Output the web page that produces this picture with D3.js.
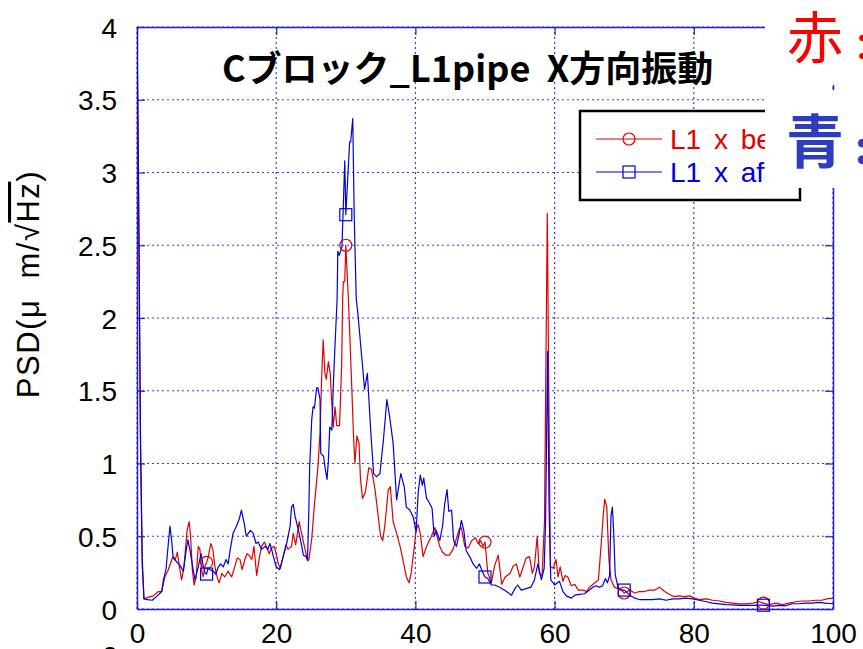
<!DOCTYPE html>
<html>
<head>
<meta charset="utf-8">
<script src="https://cdn.jsdelivr.net/npm/d3@7"></script>
<style>
  html, body { margin: 0; padding: 0; background: #fff; }
  svg { display: block; }
  text { font-family: "Liberation Sans", Arial, sans-serif; white-space: pre; }
</style>
</head>
<body>
<svg id="chart" width="863" height="649"></svg>
<script>
// Frequency (Hz) and PSD readings for the two measurements
const freqBefore = [0,0.25,0.5,0.75,1.0,1.6,2.35,3.07,3.55,4.0,4.5,5.0,5.2,5.5,5.8,6.1,6.4,6.7,7.0,7.2,7.5,7.7,7.95,8.2,8.5,8.8,9.04,9.28,9.5,9.8,10.0,10.2,10.6,10.9,11.2,11.5,11.8,12.2,12.6,13.1,13.6,14.1,14.4,14.8,15.1,15.5,15.8,16.1,16.5,16.8,17.2,17.6,17.9,18.3,18.6,19.0,19.3,19.7,20.0,20.3,20.6,21.0,21.4,21.7,22.2,22.45,22.8,23.3,23.6,24.1,24.5,24.7,25.1,25.5,26.0,26.3,26.5,26.75,27.0,27.2,27.5,27.75,27.95,28.2,28.45,28.7,29.1,29.4,29.55,29.65,29.85,30.0,30.4,30.8,31.1,31.3,31.6,31.9,32.1,32.4,32.8,33.3,33.7,34.2,34.6,35.0,35.3,35.6,36.1,36.4,36.8,37.3,37.8,38.2,38.7,39.1,39.4,39.8,40.1,40.4,40.7,41.1,41.6,42.0,42.3,42.8,43.0,43.5,43.9,44.4,44.9,45.4,45.8,46.3,46.6,47.1,47.6,48.1,48.6,49.0,49.4,49.7,50.0,50.4,50.9,51.4,51.9,52.4,52.9,53.6,54.0,54.5,55.0,55.5,55.9,56.4,56.8,57.1,57.5,57.8,58.2,58.55,58.95,59.2,59.4,59.8,60.2,60.5,60.8,61.0,61.2,61.5,61.9,62.4,62.9,63.4,64.1,64.6,65.0,65.8,66.3,66.7,67.0,67.2,67.5,67.8,68.1,68.6,69.1,69.6,70.0,70.8,71.5,72.2,72.9,73.6,74.4,75.1,75.8,76.5,77.2,77.9,78.6,79.4,80.1,80.8,81.8,82.7,83.7,84.6,85.6,86.5,87.5,88.5,89.4,90.0,90.8,91.8,92.7,93.7,94.6,95.6,96.5,97.5,98.4,99.1,100];
const psdBefore = [4.0,2.6,1.1,0.3,0.07,0.08,0.09,0.12,0.12,0.22,0.27,0.34,0.36,0.34,0.39,0.29,0.2,0.27,0.43,0.54,0.6,0.5,0.27,0.165,0.22,0.43,0.41,0.27,0.22,0.3,0.32,0.35,0.45,0.41,0.29,0.22,0.18,0.245,0.22,0.26,0.22,0.3,0.35,0.34,0.27,0.34,0.38,0.37,0.34,0.43,0.23,0.36,0.43,0.46,0.43,0.38,0.42,0.43,0.38,0.31,0.28,0.36,0.44,0.41,0.43,0.52,0.44,0.6,0.53,0.42,0.33,0.34,0.48,0.72,0.98,1.21,1.55,1.85,1.62,1.58,1.7,1.62,1.45,1.25,1.39,1.26,1.26,1.67,2.13,2.25,2.25,2.5,2.1,1.6,1.2,1.0,1.19,1.14,0.9,0.76,0.8,0.97,0.96,0.82,0.66,0.5,0.47,0.57,0.82,0.84,0.6,0.52,0.43,0.34,0.22,0.18,0.25,0.41,0.54,0.58,0.52,0.36,0.43,0.47,0.5,0.56,0.52,0.43,0.39,0.37,0.37,0.41,0.47,0.55,0.56,0.43,0.42,0.47,0.49,0.45,0.47,0.43,0.46,0.25,0.18,0.3,0.37,0.17,0.22,0.245,0.29,0.31,0.22,0.29,0.35,0.36,0.245,0.29,0.5,0.245,0.23,0.6,2.72,1.3,0.29,0.28,0.34,0.22,0.29,0.24,0.19,0.23,0.22,0.16,0.17,0.13,0.13,0.12,0.15,0.18,0.2,0.45,0.65,0.755,0.7,0.34,0.2,0.15,0.14,0.13,0.11,0.13,0.11,0.12,0.12,0.13,0.13,0.15,0.12,0.1,0.085,0.09,0.085,0.09,0.075,0.065,0.07,0.06,0.055,0.045,0.04,0.035,0.035,0.04,0.05,0.04,0.03,0.04,0.03,0.04,0.05,0.055,0.055,0.06,0.06,0.07,0.075];

const freqAfter = [0,0.25,0.5,0.75,1.0,1.5,2.2,2.8,3.55,3.8,4.16,4.5,4.74,4.98,5.2,5.6,6.17,6.65,7.0,7.3,7.6,8.0,8.33,8.8,9.2,9.5,9.8,10.0,10.2,10.5,10.96,11.3,11.7,12.0,12.4,12.8,13.1,13.4,13.8,14.3,14.7,15.0,15.4,15.7,16.0,16.3,16.7,17.1,17.4,17.9,18.4,18.8,19.1,19.4,19.6,20.0,20.5,21.0,21.5,22.0,22.2,22.45,22.7,23.2,23.6,23.9,24.3,24.5,24.7,24.8,25.1,25.3,25.5,25.8,26.0,26.3,26.4,26.8,27.0,27.3,27.5,27.7,28.0,28.2,28.4,28.75,28.85,29.05,29.45,29.85,30.0,30.55,30.7,31.0,31.2,31.5,31.7,32.2,32.7,33.1,33.6,34.0,34.4,34.9,35.4,35.9,36.3,36.8,37.3,37.9,38.4,38.7,39.2,39.7,40.1,40.4,40.7,41.0,41.2,41.6,42.0,42.4,42.7,43.0,43.5,43.9,44.2,44.55,44.8,45.2,45.5,45.9,46.3,46.6,46.95,47.3,47.8,48.3,48.8,49.2,49.6,50.0,50.4,50.9,51.4,52.1,53.1,53.8,54.3,54.7,55.2,55.9,56.6,57.1,57.6,58.1,58.5,58.7,59.0,59.2,59.45,60.0,60.7,61.2,61.7,62.4,62.9,63.6,64.3,65.0,65.5,66.0,66.4,66.9,67.3,67.6,67.9,68.1,68.3,68.5,68.7,69.1,69.6,70.0,70.8,71.5,72.2,73.1,74.1,75.1,76.0,77.0,77.9,78.9,79.8,80.8,81.8,82.7,83.7,84.6,85.6,86.5,87.5,88.5,89.4,90.0,91.3,92.2,93.2,94.1,95.1,96.0,97.0,97.9,98.9,100];
const psdAfter = [4.0,2.8,1.2,0.35,0.07,0.065,0.06,0.085,0.12,0.2,0.27,0.45,0.57,0.47,0.35,0.33,0.3,0.26,0.38,0.475,0.41,0.29,0.2,0.29,0.38,0.3,0.245,0.24,0.28,0.27,0.26,0.24,0.29,0.31,0.29,0.34,0.31,0.41,0.52,0.57,0.62,0.68,0.59,0.5,0.52,0.54,0.52,0.45,0.46,0.41,0.43,0.41,0.45,0.4,0.36,0.29,0.27,0.36,0.45,0.57,0.7,0.72,0.64,0.54,0.45,0.37,0.36,0.34,0.7,0.96,1.3,1.39,1.38,1.52,1.52,1.44,1.07,1.05,0.98,0.89,1.02,1.25,1.23,1.53,1.76,2.13,2.46,2.43,2.49,3.08,2.71,3.21,3.21,3.37,2.72,2.13,2.05,1.78,1.51,1.62,1.21,0.93,0.91,0.93,1.16,1.44,1.32,1.14,0.75,0.93,0.84,0.7,0.68,0.63,0.53,0.8,0.92,0.85,0.9,0.76,0.73,0.69,0.5,0.54,0.47,0.57,0.72,0.82,0.67,0.68,0.47,0.43,0.52,0.61,0.54,0.4,0.36,0.31,0.28,0.31,0.26,0.22,0.21,0.165,0.165,0.15,0.12,0.095,0.14,0.165,0.13,0.14,0.15,0.2,0.31,0.2,0.28,0.6,1.77,0.7,0.2,0.165,0.19,0.12,0.09,0.075,0.095,0.1,0.105,0.13,0.15,0.16,0.15,0.16,0.21,0.18,0.23,0.64,0.7,0.52,0.24,0.15,0.13,0.13,0.095,0.075,0.065,0.065,0.065,0.07,0.06,0.07,0.07,0.075,0.07,0.06,0.05,0.04,0.035,0.03,0.028,0.025,0.025,0.025,0.026,0.026,0.02,0.025,0.022,0.036,0.036,0.04,0.04,0.045,0.04,0.036];

const markerFreqs = [10, 30, 50, 70, 90];
const xTicks = [0, 20, 40, 60, 80, 100];
const yTicks = [0, 0.5, 1, 1.5, 2, 2.5, 3, 3.5, 4];
const legendLabels = ["L1 x before", "L1 x after"];
const titleText = "Cブロック_L1pipe  X方向振動";

const RED = "#e00000", BLUE = "#0000e0";
const GRID = "#3a3af0", AXIS = "#1f1fd8";

const svg = d3.select("#chart");
const plot = { left: 137, right: 833, top: 27, bottom: 609 };

const x = d3.scaleLinear().domain([0, 100]).range([plot.left, plot.right]);
const y = d3.scaleLinear().domain([0, 4]).range([plot.bottom, plot.top]);

const defs = svg.append("defs");
defs.append("clipPath").attr("id", "plotClip")
  .append("rect")
  .attr("x", plot.left).attr("y", plot.top)
  .attr("width", plot.right - plot.left).attr("height", plot.bottom - plot.top);
// legend labels run under the note boxes, so trim them there
defs.append("clipPath").attr("id", "legendClip")
  .append("rect").attr("x", 580).attr("y", 111).attr("width", 185).attr("height", 89);

// dotted grid
const grid = svg.append("g");
grid.selectAll(".hg").data(yTicks).join("line")
  .attr("x1", plot.left).attr("x2", plot.right)
  .attr("y1", d => y(d)).attr("y2", d => y(d))
  .attr("stroke", GRID).attr("stroke-width", 1.2).attr("stroke-dasharray", "2,3");
grid.selectAll(".vg").data(xTicks).join("line")
  .attr("y1", plot.top).attr("y2", plot.bottom)
  .attr("x1", d => x(d)).attr("x2", d => x(d))
  .attr("stroke", GRID).attr("stroke-width", 1.2).attr("stroke-dasharray", "2,3");

// axes: ticks point inward, frame on all four sides
const tl = 8;
const bottomAxis = d3.axisBottom(x).tickValues(xTicks).tickSizeInner(-tl).tickSizeOuter(0).tickPadding(14).tickFormat(d3.format("d"));
const topAxis = d3.axisTop(x).tickValues(xTicks).tickSizeInner(-tl).tickSizeOuter(0).tickFormat("");
const leftAxis = d3.axisLeft(y).tickValues(yTicks).tickSizeInner(-tl).tickSizeOuter(0).tickPadding(20).tickFormat(d => d3.format("")(d));
const rightAxis = d3.axisRight(y).tickValues(yTicks).tickSizeInner(-tl).tickSizeOuter(0).tickFormat("");

function styleAxis(g) {
  g.select(".domain").attr("stroke", AXIS).attr("stroke-width", 1.5);
  g.selectAll(".tick line").attr("stroke", AXIS).attr("stroke-width", 1.2);
  g.selectAll(".tick text").attr("fill", "#000").style("font-size", "28px")
    .style("font-family", "'Liberation Sans', Arial, sans-serif");
}
svg.append("g").attr("transform", `translate(0,${plot.bottom})`).call(bottomAxis).call(styleAxis);
svg.append("g").attr("transform", `translate(0,${plot.top})`).call(topAxis).call(styleAxis);
svg.append("g").attr("transform", `translate(${plot.left},0)`).call(leftAxis).call(styleAxis)
  .selectAll(".tick text").attr("dy", "0.36em");
svg.append("g").attr("transform", `translate(${plot.right},0)`).call(rightAxis).call(styleAxis);

// data lines
const line = d3.line().x(d => x(d[0])).y(d => y(d[1]));
const series = [
  { f: freqBefore, v: psdBefore, color: RED, marker: "circle" },
  { f: freqAfter, v: psdAfter, color: BLUE, marker: "square" }
];
const lines = svg.append("g").attr("clip-path", "url(#plotClip)");
series.forEach(s => {
  const pts = s.f.map((f, i) => [f, s.v[i]]);
  lines.append("path").datum(pts)
    .attr("d", line).attr("fill", "none")
    .attr("stroke", s.color).attr("stroke-width", 1.2).attr("stroke-linejoin", "round");
});

// markers every 20 Hz
function drawMarker(g, type, cx, cy, color) {
  if (type === "circle") {
    g.append("circle").attr("cx", cx).attr("cy", cy).attr("r", 6)
      .attr("fill", "none").attr("stroke", color).attr("stroke-width", 1.2);
  } else {
    g.append("rect").attr("x", cx - 6).attr("y", cy - 6).attr("width", 12).attr("height", 12)
      .attr("fill", "none").attr("stroke", color).attr("stroke-width", 1.2);
  }
}
const mk = svg.append("g");
series.forEach(s => {
  markerFreqs.forEach(mf => {
    const i = s.f.indexOf(mf);
    if (i >= 0) drawMarker(mk, s.marker, x(mf), y(s.v[i]), s.color);
  });
});

// title
svg.append("text").attr("x", 222).attr("y", 82)
  .style("font-family", "'Noto Sans CJK JP', sans-serif")
  .style("font-size", "36px").style("font-weight", "bold")
  .attr("fill", "#000").text(titleText);

// y-axis label with radical sign over Hz
const yl = svg.append("text")
  .attr("transform", "translate(39,284) rotate(-90)")
  .attr("text-anchor", "middle")
  .style("font-size", "31px").style("letter-spacing", "1.5px").attr("fill", "#000");
yl.append("tspan").text("PSD(μ  m/√");
yl.append("tspan").style("text-decoration", "overline").text("Hz");
yl.append("tspan").text(")");

// partial label below the x axis
svg.append("text").attr("x", 110).attr("y", 666).attr("text-anchor", "middle")
  .style("font-size", "28px").attr("fill", "#000").text("0");

// legend
const lg = svg.append("g");
lg.append("rect").attr("x", 580).attr("y", 111).attr("width", 220).attr("height", 89)
  .attr("fill", "#fff").attr("stroke", "#000").attr("stroke-width", 2.5);
const lgText = lg.append("g").attr("clip-path", "url(#legendClip)");
series.forEach((s, i) => {
  const ly = 139 + i * 33;
  lg.append("line").attr("x1", 596).attr("x2", 662).attr("y1", ly).attr("y2", ly)
    .attr("stroke", s.color).attr("stroke-width", 1.2);
  drawMarker(lg, s.marker, 629, ly, s.color);
  lgText.append("text").attr("x", 670).attr("y", ly + 10)
    .style("font-size", "28px").style("word-spacing", "5px")
    .attr("fill", s.color).text(legendLabels[i]);
});

// note boxes at the upper right
svg.append("rect").attr("x", 765).attr("y", 0).attr("width", 98).attr("height", 85).attr("fill", "#fff");
svg.append("rect").attr("x", 765).attr("y", 90).attr("width", 98).attr("height", 98).attr("fill", "#fff");
svg.append("text").attr("x", 787).attr("y", 58)
  .style("font-family", "'Noto Sans CJK JP', sans-serif").style("font-size", "56px")
  .attr("fill", "#ff0000").text("赤");
svg.append("text").attr("x", 862).attr("y", 58).attr("text-anchor", "middle")
  .style("font-family", "'Noto Sans CJK JP', sans-serif").style("font-size", "44px")
  .attr("fill", "#ff0000").text(":");
svg.append("text").attr("x", 786).attr("y", 163)
  .style("font-family", "'Noto Sans CJK JP', sans-serif").style("font-size", "58px")
  .style("font-weight", "bold").attr("fill", "#2e3cc0").text("青");
svg.append("text").attr("x", 862).attr("y", 163).attr("text-anchor", "middle")
  .style("font-family", "'Noto Sans CJK JP', sans-serif").style("font-size", "44px")
  .style("font-weight", "bold").attr("fill", "#2e3cc0").text(":");
</script>
</body>
</html>
